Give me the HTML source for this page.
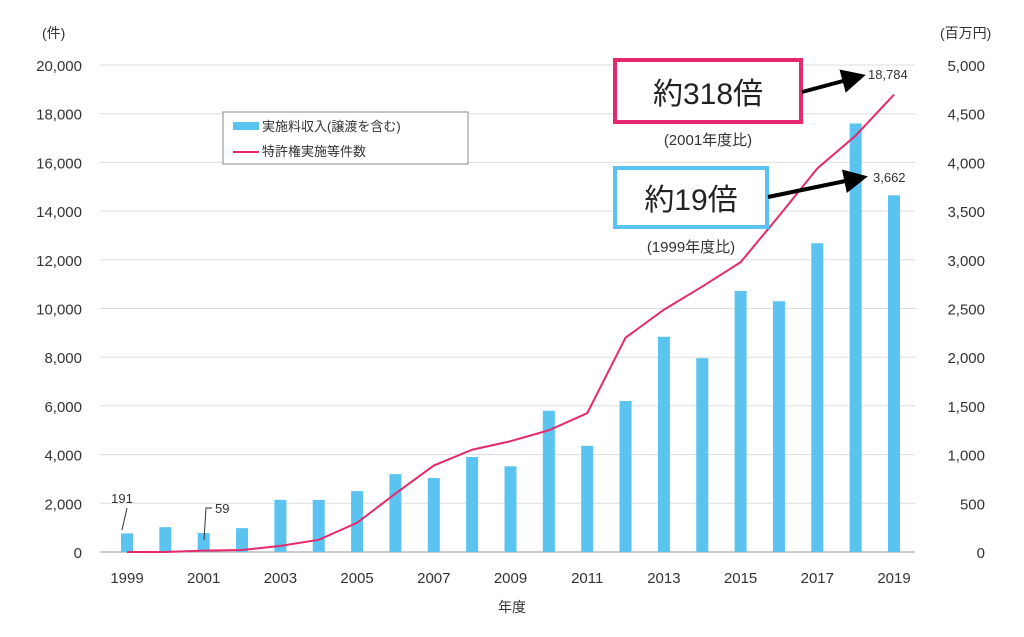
<!DOCTYPE html>
<html><head><meta charset="utf-8"><style>
body{margin:0;background:#fff;width:1024px;height:632px;overflow:hidden;font-family:"Liberation Sans","Noto Sans CJK JP",sans-serif}
svg text{font-family:"Liberation Sans","Noto Sans CJK JP",sans-serif}
</style></head><body>
<svg id="c" width="1024" height="632"></svg>
<script>
const years=[1999,2000,2001,2002,2003,2004,2005,2006,2007,2008,2009,2010,2011,2012,2013,2014,2015,2016,2017,2018,2019];
const income=[191,255,195,245,535,535,625,800,760,975,880,1450,1090,1550,2210,1990,2680,2575,3170,4400,3662];
const counts=[0,0,59,80,250,500,1200,2400,3550,4200,4550,5000,5700,8800,9950,10900,11900,13800,15750,17100,18784];
const leftTicks=[0,2000,4000,6000,8000,10000,12000,14000,16000,18000,20000];
const rightTicks=[0,500,1000,1500,2000,2500,3000,3500,4000,4500,5000];
const xLabels=[1999,2001,2003,2005,2007,2009,2011,2013,2015,2017,2019];
const NS="http://www.w3.org/2000/svg",svg=document.getElementById('c');
function el(t,a,p){const e=document.createElementNS(NS,t);for(const k in a)e.setAttribute(k,a[k]);(p||svg).appendChild(e);return e;}
const y0=552,h=487;
const xS=yr=>127+(yr-1999)*38.35;
const yL=v=>y0-v/20000*h;
const yR=v=>y0-v/5000*h;
leftTicks.forEach((t,i)=>{
 const g=el('line',{x1:100,x2:915,y1:yL(t),y2:yL(t),stroke:t==0?'#999':'#ddd','stroke-width':1});
 
 const a=el('text',{x:82,y:yL(t)+6,'text-anchor':'end','font-size':15,fill:'#333'});a.textContent=t.toLocaleString('en-US');
 
});
rightTicks.forEach(t=>{
 const a=el('text',{x:985,y:yR(t)+6,'text-anchor':'end','font-size':15,fill:'#333'});a.textContent=t.toLocaleString('en-US');
 
});
xLabels.forEach(t=>{
 const a=el('text',{x:xS(t),y:583,'text-anchor':'middle','font-size':15,fill:'#333'});a.textContent=t;
 
});
years.forEach((yr,i)=>{
 const b=el('rect',{x:xS(yr)-6,y:yR(income[i]),width:12,height:y0-yR(income[i]),fill:'#5bc3f0'});
 
});
const ln=el('polyline',{points:years.map((yr,i)=>xS(yr)+','+yL(counts[i])).join(' '),fill:'none',stroke:'#e6296e','stroke-width':2});

function txt(x,y,s,fs,name,anchor,fill){const a=el('text',{x:x,y:y,'font-size':fs,'text-anchor':anchor||'start',fill:fill||'#333'});a.textContent=s;return a;}
txt(42,38,'(件)',14,'left-axis-unit');
txt(940,38,'(百万円)',14,'right-axis-unit');
txt(512,612,'年度',14,'x-axis-title','middle');
txt(122,503,'191',13,'label-191','middle');
el('line',{x1:127,y1:508,x2:122,y2:530,stroke:'#333'});
txt(215,513,'59',13,'label-59');
el('polyline',{points:'212,508 206,508 204,540',fill:'none',stroke:'#333'});
// legend
const lg=el('rect',{x:223,y:112,width:245,height:52,fill:'#fff',stroke:'#888'});
el('rect',{x:233,y:122,width:26,height:8,fill:'#5bc3f0'});
txt(262,131,'実施料収入(譲渡を含む)',13,'legend-income');
el('line',{x1:233,x2:259,y1:152,y2:152,stroke:'#e6296e','stroke-width':2});
txt(262,156,'特許権実施等件数',13,'legend-count');
// callouts
const p=el('rect',{x:615,y:60,width:186,height:62,fill:'#fff',stroke:'#e6296e','stroke-width':4});
txt(708,104,'約318倍',30,'callout-318-text','middle','#222');
txt(708,145,'(2001年度比)',15,'callout-318-note','middle');
const q=el('rect',{x:615,y:168,width:152,height:59,fill:'#fff',stroke:'#5bc3f0','stroke-width':4});
txt(691,210,'約19倍',30,'callout-19-text','middle','#222');
txt(691,252,'(1999年度比)',15,'callout-19-note','middle');
el('defs',{}).innerHTML='<marker id="ar" markerWidth="6" markerHeight="6" refX="4" refY="3" orient="auto"><path d="M0,0 L6,3 L0,6 z" fill="#000"/></marker>';
el('line',{x1:802,y1:92,x2:858,y2:77,stroke:'#000','stroke-width':4,'marker-end':'url(#ar)'});
el('line',{x1:768,y1:197,x2:860,y2:178,stroke:'#000','stroke-width':4,'marker-end':'url(#ar)'});
txt(868,79,'18,784',13,'label-18784');
txt(873,182,'3,662',13,'label-3662');
</script>
</body></html>
